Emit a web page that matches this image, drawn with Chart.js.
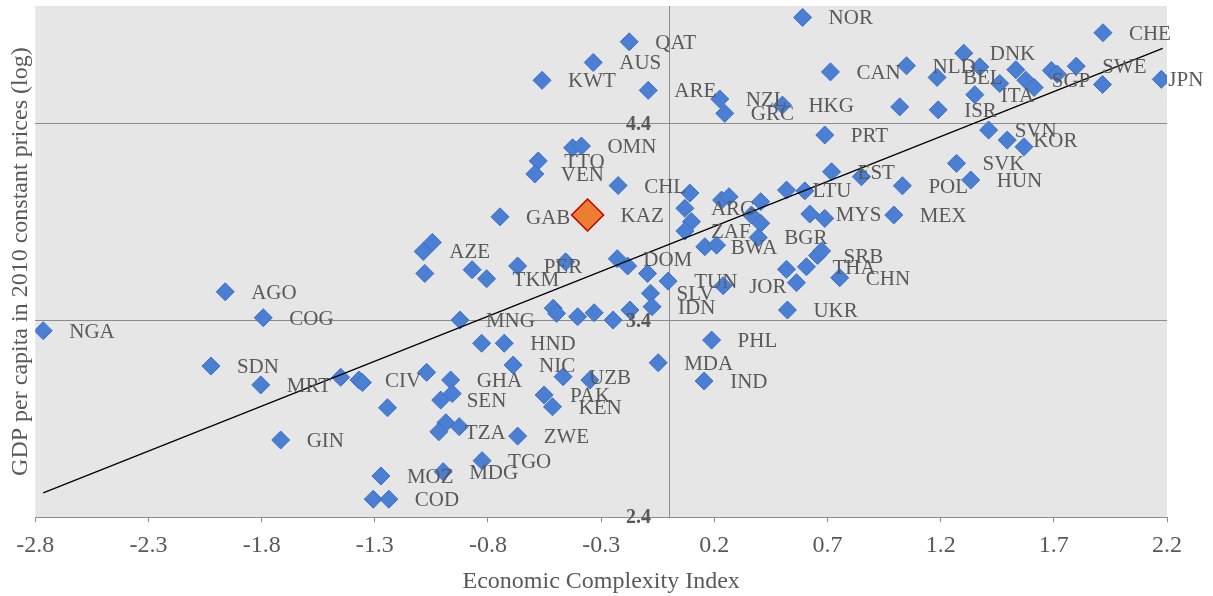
<!DOCTYPE html>
<html>
<head>
<meta charset="utf-8">
<script src="https://cdn.jsdelivr.net/npm/chart.js@4.4.1/dist/chart.umd.min.js"></script>
<style>
html,body{margin:0;padding:0;background:#ffffff;}
canvas{display:block;}
</style>
</head>
<body>
<canvas id="c" width="1213" height="596"></canvas>
<script>
// ---- data ----
const countries = [
  'NGA','AGO','COG','SDN','MRT','','CIV','','','GIN',
  'MOZ','','COD','','GHA','SEN','','','TZA','',
  'ZWE','TGO','MDG','','HND','NIC','UZB','','PAK','KEN',
  'MDA','MNG','','','','','','','SLV','IDN',
  'PHL','IND','TUN','JOR','UKR','GAB','AZE','','','',
  'TKM','PER','','DOM','','','CHL','','ARG','',
  'ZAF','QAT','AUS','KWT','ARE','','OMN','TTO','VEN','NOR',
  'NZL','GRC','HKG','CAN','NLD','BEL','DNK','','ITA','',
  'ISR','PRT','EST','','POL','SVK','HUN','LTU','','',
  '','','','','BGR','BWA','','MYS','','MEX',
  '','','THA','SRB','','CHN','CHE','','SGP','',
  '','','','SWE','','JPN','SVN','KOR',''
];
const eci = [
  -2.765,-1.961,-1.793,-2.024,-1.804,-1.451,-1.370,-1.355,-1.244,-1.716,
  -1.273,-1.307,-1.238,-1.071,-0.965,-1.009,-0.958,-0.986,-1.017,-0.927,
  -0.669,-0.826,-0.998,-0.828,-0.728,-0.689,-0.468,-0.350,-0.552,-0.515,
  -0.048,-0.924,-0.512,-0.497,-0.404,-0.331,-0.247,-0.173,-0.082,-0.075,
  0.188,0.155,-0.004,0.239,0.523,-0.747,-1.086,-1.046,-1.079,-0.870,
  -0.806,-0.669,-0.457,-0.229,-0.183,-0.095,-0.225,0.092,0.070,0.099,
  0.070,-0.176,-0.335,-0.561,-0.092,-0.426,-0.387,-0.578,-0.593,0.590,
  0.224,0.246,0.501,0.713,1.049,1.184,1.302,1.373,1.351,1.019,
  1.189,0.688,0.718,0.850,1.031,1.270,1.333,0.519,0.600,0.232,
  0.265,0.405,0.364,0.405,0.394,0.158,0.210,0.622,0.688,0.993,
  0.519,0.563,0.607,0.656,0.674,0.754,1.917,1.461,1.576,1.613,
  1.532,1.689,1.715,1.799,1.915,2.175,1.412,1.494,1.568
];
const gdp = [
  3.349,3.547,3.415,3.169,3.073,3.112,3.098,3.085,2.957,2.793,
  2.610,2.492,2.492,3.137,3.098,2.996,3.029,2.881,2.835,2.861,
  2.813,2.688,2.632,3.285,3.285,3.174,3.115,3.098,3.022,2.962,
  3.186,3.403,3.463,3.437,3.420,3.440,3.403,3.454,3.539,3.471,
  3.301,3.093,3.601,3.578,3.454,3.928,3.752,3.798,3.640,3.659,
  3.613,3.678,3.699,3.715,3.678,3.640,4.087,4.049,3.971,3.903,
  3.856,4.818,4.713,4.622,4.571,4.279,4.288,4.212,4.146,4.942,
  4.527,4.454,4.496,4.665,4.696,4.637,4.760,4.691,4.549,4.487,
  4.472,4.344,4.157,4.132,4.086,4.200,4.115,4.064,4.060,4.013,
  4.030,4.005,3.937,3.895,3.823,3.776,3.784,3.942,3.920,3.937,
  3.661,3.593,3.674,3.731,3.754,3.618,4.864,4.606,4.623,4.586,
  4.676,4.672,4.654,4.694,4.601,4.627,4.369,4.318,4.284
];
const highlightCountry = ['KAZ'];
const highlightEci = [-0.360];
const highlightGdp = [3.937];

const trendEci = [-2.765, 2.181];
const trendGdp = [2.524, 4.784];

const xTicks = [-2.8, -2.3, -1.8, -1.3, -0.8, -0.3, 0.2, 0.7, 1.2, 1.7, 2.2];
const yTicks = [2.4, 3.4, 4.4];
const xTitle = 'Economic Complexity Index';
const yTitle = 'GDP per capita in 2010 constant prices (log)';
const yAxisCrossAt = 0;

// ---- styles ----
const TEXT = '#595959';
const GRID = '#8c8c8c';
const SERIF = '"Liberation Serif", "Times New Roman", serif';
const labelNudge = {JPN: -19};   // label moved closer to its marker, as in the original

const toPts = (xs, ys) => xs.map((v, i) => ({x: v, y: ys[i]}));

const plotBg = {
  id: 'plotBg',
  beforeDraw(chart) {
    const {ctx, chartArea: a} = chart;
    ctx.save();
    ctx.fillStyle = '#e6e6e6';
    ctx.fillRect(a.left, a.top, a.right - a.left, a.bottom - a.top);
    ctx.restore();
  },
  beforeDatasetsDraw(chart) {
    const {ctx, chartArea: a, scales} = chart;
    const x0 = Math.round(scales.x.getPixelForValue(yAxisCrossAt)) + 0.5;
    ctx.save();
    ctx.strokeStyle = GRID;
    ctx.lineWidth = 1;
    ctx.beginPath();
    ctx.moveTo(x0, a.top);
    ctx.lineTo(x0, a.bottom);
    ctx.stroke();
    ctx.restore();
  }
};

const textLayer = {
  id: 'textLayer',
  afterDatasetsDraw(chart) {
    const {ctx, scales} = chart;
    ctx.save();
    ctx.font = '21px ' + SERIF;
    ctx.fillStyle = TEXT;
    ctx.textAlign = 'left';
    ctx.textBaseline = 'middle';
    chart.data.datasets.forEach((ds, di) => {
      if (!ds.names) return;
      const meta = chart.getDatasetMeta(di);
      meta.data.forEach((el, i) => {
        const t = ds.names[i];
        if (!t) return;
        const dx = labelNudge[t] || 0;
        ctx.fillText(t, el.x + ds.pointRadius + 17 + dx, el.y + 1.5);
      });
    });
    // y tick labels placed along the vertical axis at x = 0
    const x0 = scales.x.getPixelForValue(yAxisCrossAt);
    ctx.font = 'bold 20px ' + SERIF;
    ctx.textAlign = 'right';
    yTicks.forEach(v => {
      ctx.fillText(v.toFixed(1), x0 - 18, scales.y.getPixelForValue(v) + 1);
    });
    ctx.restore();
  }
};

new Chart(document.getElementById('c'), {
  type: 'scatter',
  data: {
    datasets: [
      {
        type: 'line',
        label: 'trend',
        data: toPts(trendEci, trendGdp),
        borderColor: '#000000',
        borderWidth: 1.3,
        pointRadius: 0,
        fill: false,
        showLine: true,
        order: 0
      },
      {
        label: 'KAZ',
        data: toPts(highlightEci, highlightGdp),
        names: highlightCountry,
        pointStyle: 'rectRot',
        pointRadius: 16,
        pointHoverRadius: 16,
        backgroundColor: '#ed7d31',
        borderColor: '#c00000',
        borderWidth: 1.5,
        order: 1
      },
      {
        label: 'countries',
        data: toPts(eci, gdp),
        names: countries,
        pointStyle: 'rectRot',
        pointRadius: 9,
        pointHoverRadius: 9,
        backgroundColor: '#4a7fd3',
        borderColor: '#3e6fc3',
        borderWidth: 1,
        order: 2
      }
    ]
  },
  options: {
    responsive: false,
    animation: false,
    layout: {autoPadding: false, padding: {left: 0, right: 46, top: 6, bottom: 0}},
    plugins: {legend: {display: false}, tooltip: {enabled: false}},
    scales: {
      x: {
        type: 'linear',
        min: -2.8,
        max: 2.2,
        afterBuildTicks: s => { s.ticks = xTicks.map(v => ({value: v})); },
        afterFit: s => { s.height = 78.7; },
        ticks: {
          autoSkip: false,
          maxRotation: 0,
          padding: 9,
          color: TEXT,
          font: {family: SERIF, size: 24},
          callback: v => Number(v).toFixed(1)
        },
        grid: {drawOnChartArea: false, drawTicks: true, tickLength: 5, color: GRID, lineWidth: 1},
        border: {display: true, color: GRID, width: 1},
        title: {display: true, text: xTitle, color: TEXT, font: {family: SERIF, size: 24}, padding: {top: 0, bottom: 0}}
      },
      y: {
        type: 'linear',
        min: 2.4,
        max: 5.0,
        afterBuildTicks: s => { s.ticks = yTicks.map(v => ({value: v})); },
        afterFit: s => { s.width = 35.3; },
        ticks: {display: false},
        grid: {drawOnChartArea: true, drawTicks: false, color: GRID, lineWidth: 1},
        border: {display: false},
        title: {display: true, text: yTitle, color: TEXT, font: {family: SERIF, size: 24}, padding: {top: 6, bottom: 0}}
      }
    }
  },
  plugins: [plotBg, textLayer]
});
</script>
</body>
</html>
